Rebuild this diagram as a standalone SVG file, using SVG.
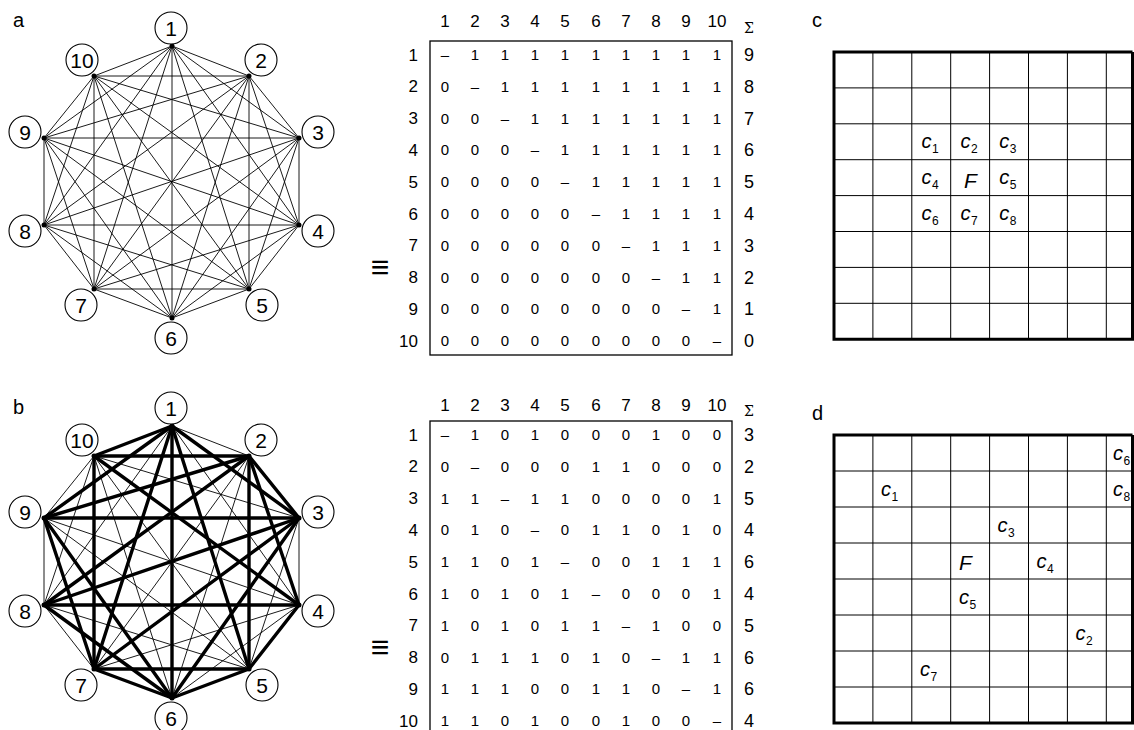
<svg xmlns="http://www.w3.org/2000/svg" width="1134" height="730" viewBox="0 0 1134 730">
<style>
text{font-family:"Liberation Sans",Arial,sans-serif;fill:#000}
.pl{font-size:20px}
.e line{stroke:#000;stroke-width:0.9}
.E line{stroke:#000;stroke-width:3.4;stroke-linecap:round}
.nd circle.c{fill:#fff;stroke:#000;stroke-width:1.1}
.nd circle.d{fill:#000}
.nd text{font-size:21px;text-anchor:middle}
.h{font-size:17px;text-anchor:middle}
.r{font-size:17px;text-anchor:end}
.v{font-size:15px;text-anchor:middle}
.s{font-size:18px;text-anchor:middle}
.sg{font-size:14px;text-anchor:middle;font-family:"DejaVu Serif",serif}
.box{fill:none;stroke:#000;stroke-width:1.3}
.eq{font-size:32px;text-anchor:middle}
.gt{fill:none;stroke:#000;stroke-width:1}
.gT{fill:none;stroke:#000;stroke-width:3}
.ci{font-size:20px;font-style:italic}
.sub{font-size:12px}
.F{font-size:21px;font-style:italic}
</style>
<rect width="1134" height="730" fill="#fff"/>
<text class="pl" x="13" y="27">a</text>
<text class="pl" x="13" y="414">b</text>
<text class="pl" x="812" y="27">c</text>
<text class="pl" x="812" y="420">d</text>

<!-- Graph a -->
<g id="graph-a">
<g id="edges-a" class="e">
<line x1="172" y1="46" x2="249" y2="76"/><line x1="172" y1="46" x2="299" y2="138"/><line x1="172" y1="46" x2="299" y2="225"/><line x1="172" y1="46" x2="249" y2="289"/><line x1="172" y1="46" x2="172" y2="318"/><line x1="172" y1="46" x2="94" y2="289"/><line x1="172" y1="46" x2="44" y2="225"/><line x1="172" y1="46" x2="44" y2="138"/><line x1="172" y1="46" x2="94" y2="76"/>
<line x1="249" y1="76" x2="299" y2="138"/><line x1="249" y1="76" x2="299" y2="225"/><line x1="249" y1="76" x2="249" y2="289"/><line x1="249" y1="76" x2="172" y2="318"/><line x1="249" y1="76" x2="94" y2="289"/><line x1="249" y1="76" x2="44" y2="225"/><line x1="249" y1="76" x2="44" y2="138"/><line x1="249" y1="76" x2="94" y2="76"/>
<line x1="299" y1="138" x2="299" y2="225"/><line x1="299" y1="138" x2="249" y2="289"/><line x1="299" y1="138" x2="172" y2="318"/><line x1="299" y1="138" x2="94" y2="289"/><line x1="299" y1="138" x2="44" y2="225"/><line x1="299" y1="138" x2="44" y2="138"/><line x1="299" y1="138" x2="94" y2="76"/>
<line x1="299" y1="225" x2="249" y2="289"/><line x1="299" y1="225" x2="172" y2="318"/><line x1="299" y1="225" x2="94" y2="289"/><line x1="299" y1="225" x2="44" y2="225"/><line x1="299" y1="225" x2="44" y2="138"/><line x1="299" y1="225" x2="94" y2="76"/>
<line x1="249" y1="289" x2="172" y2="318"/><line x1="249" y1="289" x2="94" y2="289"/><line x1="249" y1="289" x2="44" y2="225"/><line x1="249" y1="289" x2="44" y2="138"/><line x1="249" y1="289" x2="94" y2="76"/>
<line x1="172" y1="318" x2="94" y2="289"/><line x1="172" y1="318" x2="44" y2="225"/><line x1="172" y1="318" x2="44" y2="138"/><line x1="172" y1="318" x2="94" y2="76"/>
<line x1="94" y1="289" x2="44" y2="225"/><line x1="94" y1="289" x2="44" y2="138"/><line x1="94" y1="289" x2="94" y2="76"/>
<line x1="44" y1="225" x2="44" y2="138"/><line x1="44" y1="225" x2="94" y2="76"/>
<line x1="44" y1="138" x2="94" y2="76"/>
</g>
<g id="a-n1" class="nd"><circle class="d" cx="172" cy="46" r="2.5"/><circle class="c" cx="171" cy="28" r="16"/><text x="171" y="35.5">1</text></g>
<g id="a-n2" class="nd"><circle class="d" cx="249" cy="76" r="2.5"/><circle class="c" cx="261" cy="60" r="16"/><text x="261" y="67.5">2</text></g>
<g id="a-n3" class="nd"><circle class="d" cx="299" cy="138" r="2.5"/><circle class="c" cx="318" cy="132" r="16"/><text x="318" y="139.5">3</text></g>
<g id="a-n4" class="nd"><circle class="d" cx="299" cy="225" r="2.5"/><circle class="c" cx="318" cy="231" r="16"/><text x="318" y="238.5">4</text></g>
<g id="a-n5" class="nd"><circle class="d" cx="249" cy="289" r="2.5"/><circle class="c" cx="262" cy="305" r="16"/><text x="262" y="312.5">5</text></g>
<g id="a-n6" class="nd"><circle class="d" cx="172" cy="318" r="2.5"/><circle class="c" cx="171" cy="338" r="16"/><text x="171" y="345.5">6</text></g>
<g id="a-n7" class="nd"><circle class="d" cx="94" cy="289" r="2.5"/><circle class="c" cx="81" cy="305" r="16"/><text x="81" y="312.5">7</text></g>
<g id="a-n8" class="nd"><circle class="d" cx="44" cy="225" r="2.5"/><circle class="c" cx="25" cy="231" r="16"/><text x="25" y="238.5">8</text></g>
<g id="a-n9" class="nd"><circle class="d" cx="44" cy="138" r="2.5"/><circle class="c" cx="25" cy="132" r="16"/><text x="25" y="139.5">9</text></g>
<g id="a-n10" class="nd"><circle class="d" cx="94" cy="76" r="2.5"/><circle class="c" cx="82" cy="60" r="16"/><text x="82" y="67.5">10</text></g>
</g>

<!-- Graph b -->
<g id="graph-b" transform="translate(0,380)">
<g id="edges-b">
<g class="e">
<line x1="172" y1="46" x2="249" y2="76"/><line x1="172" y1="46" x2="299" y2="225"/><line x1="172" y1="46" x2="44" y2="225"/>
<line x1="249" y1="76" x2="172" y2="318"/><line x1="249" y1="76" x2="94" y2="289"/>
<line x1="299" y1="138" x2="299" y2="225"/><line x1="299" y1="138" x2="249" y2="289"/><line x1="299" y1="138" x2="94" y2="76"/>
<line x1="299" y1="225" x2="172" y2="318"/><line x1="299" y1="225" x2="94" y2="289"/><line x1="299" y1="225" x2="44" y2="138"/>
<line x1="249" y1="289" x2="44" y2="225"/><line x1="249" y1="289" x2="44" y2="138"/><line x1="249" y1="289" x2="94" y2="76"/>
<line x1="172" y1="318" x2="94" y2="76"/>
<line x1="94" y1="289" x2="44" y2="225"/>
<line x1="44" y1="225" x2="44" y2="138"/><line x1="44" y1="225" x2="94" y2="76"/>
<line x1="44" y1="138" x2="94" y2="76"/>
</g>
<g class="E">
<line x1="172" y1="46" x2="299" y2="138"/><line x1="172" y1="46" x2="249" y2="289"/><line x1="172" y1="46" x2="172" y2="318"/><line x1="172" y1="46" x2="94" y2="289"/><line x1="172" y1="46" x2="44" y2="138"/><line x1="172" y1="46" x2="94" y2="76"/>
<line x1="249" y1="76" x2="299" y2="138"/><line x1="249" y1="76" x2="299" y2="225"/><line x1="249" y1="76" x2="249" y2="289"/><line x1="249" y1="76" x2="44" y2="225"/><line x1="249" y1="76" x2="44" y2="138"/><line x1="249" y1="76" x2="94" y2="76"/>
<line x1="299" y1="138" x2="172" y2="318"/><line x1="299" y1="138" x2="94" y2="289"/><line x1="299" y1="138" x2="44" y2="225"/><line x1="299" y1="138" x2="44" y2="138"/>
<line x1="299" y1="225" x2="249" y2="289"/><line x1="299" y1="225" x2="44" y2="225"/><line x1="299" y1="225" x2="94" y2="76"/>
<line x1="249" y1="289" x2="172" y2="318"/><line x1="249" y1="289" x2="94" y2="289"/>
<line x1="172" y1="318" x2="94" y2="289"/><line x1="172" y1="318" x2="44" y2="225"/><line x1="172" y1="318" x2="44" y2="138"/>
<line x1="94" y1="289" x2="44" y2="138"/><line x1="94" y1="289" x2="94" y2="76"/>
</g>
</g>
<g id="b-n1" class="nd"><circle class="d" cx="172" cy="46" r="2.5"/><circle class="c" cx="171" cy="28" r="16"/><text x="171" y="35.5">1</text></g>
<g id="b-n2" class="nd"><circle class="d" cx="249" cy="76" r="2.5"/><circle class="c" cx="261" cy="60" r="16"/><text x="261" y="67.5">2</text></g>
<g id="b-n3" class="nd"><circle class="d" cx="299" cy="138" r="2.5"/><circle class="c" cx="318" cy="132" r="16"/><text x="318" y="139.5">3</text></g>
<g id="b-n4" class="nd"><circle class="d" cx="299" cy="225" r="2.5"/><circle class="c" cx="318" cy="231" r="16"/><text x="318" y="238.5">4</text></g>
<g id="b-n5" class="nd"><circle class="d" cx="249" cy="289" r="2.5"/><circle class="c" cx="262" cy="305" r="16"/><text x="262" y="312.5">5</text></g>
<g id="b-n6" class="nd"><circle class="d" cx="172" cy="318" r="2.5"/><circle class="c" cx="171" cy="338" r="16"/><text x="171" y="345.5">6</text></g>
<g id="b-n7" class="nd"><circle class="d" cx="94" cy="289" r="2.5"/><circle class="c" cx="81" cy="305" r="16"/><text x="81" y="312.5">7</text></g>
<g id="b-n8" class="nd"><circle class="d" cx="44" cy="225" r="2.5"/><circle class="c" cx="25" cy="231" r="16"/><text x="25" y="238.5">8</text></g>
<g id="b-n9" class="nd"><circle class="d" cx="44" cy="138" r="2.5"/><circle class="c" cx="25" cy="132" r="16"/><text x="25" y="139.5">9</text></g>
<g id="b-n10" class="nd"><circle class="d" cx="94" cy="76" r="2.5"/><circle class="c" cx="82" cy="60" r="16"/><text x="82" y="67.5">10</text></g>
</g>

<text class="eq" x="380" y="278">≡</text>
<text class="eq" x="380" y="658">≡</text>

<!-- Matrix a -->
<g id="matrix-a">
<rect class="box" x="430" y="41" width="302" height="314"/>
<g id="matrix-a-head">
<text class="h" x="445" y="27">1</text><text class="h" x="475" y="27">2</text><text class="h" x="505" y="27">3</text><text class="h" x="535" y="27">4</text><text class="h" x="565" y="27">5</text><text class="h" x="596" y="27">6</text><text class="h" x="626" y="27">7</text><text class="h" x="656" y="27">8</text><text class="h" x="686" y="27">9</text><text class="h" x="717" y="27">10</text><text class="sg" x="749" y="33">Σ</text>
</g>
<g id="a-row1"><text class="r" x="418" y="60.5">1</text><text class="v" x="445" y="60">–</text><text class="v" x="475" y="60">1</text><text class="v" x="505" y="60">1</text><text class="v" x="535" y="60">1</text><text class="v" x="565" y="60">1</text><text class="v" x="596" y="60">1</text><text class="v" x="626" y="60">1</text><text class="v" x="656" y="60">1</text><text class="v" x="686" y="60">1</text><text class="v" x="717" y="60">1</text><text class="s" x="749" y="61">9</text></g>
<g id="a-row2"><text class="r" x="418" y="92.3">2</text><text class="v" x="445" y="91.8">0</text><text class="v" x="475" y="91.8">–</text><text class="v" x="505" y="91.8">1</text><text class="v" x="535" y="91.8">1</text><text class="v" x="565" y="91.8">1</text><text class="v" x="596" y="91.8">1</text><text class="v" x="626" y="91.8">1</text><text class="v" x="656" y="91.8">1</text><text class="v" x="686" y="91.8">1</text><text class="v" x="717" y="91.8">1</text><text class="s" x="749" y="92.8">8</text></g>
<g id="a-row3"><text class="r" x="418" y="124.1">3</text><text class="v" x="445" y="123.6">0</text><text class="v" x="475" y="123.6">0</text><text class="v" x="505" y="123.6">–</text><text class="v" x="535" y="123.6">1</text><text class="v" x="565" y="123.6">1</text><text class="v" x="596" y="123.6">1</text><text class="v" x="626" y="123.6">1</text><text class="v" x="656" y="123.6">1</text><text class="v" x="686" y="123.6">1</text><text class="v" x="717" y="123.6">1</text><text class="s" x="749" y="124.6">7</text></g>
<g id="a-row4"><text class="r" x="418" y="155.9">4</text><text class="v" x="445" y="155.4">0</text><text class="v" x="475" y="155.4">0</text><text class="v" x="505" y="155.4">0</text><text class="v" x="535" y="155.4">–</text><text class="v" x="565" y="155.4">1</text><text class="v" x="596" y="155.4">1</text><text class="v" x="626" y="155.4">1</text><text class="v" x="656" y="155.4">1</text><text class="v" x="686" y="155.4">1</text><text class="v" x="717" y="155.4">1</text><text class="s" x="749" y="156.4">6</text></g>
<g id="a-row5"><text class="r" x="418" y="187.7">5</text><text class="v" x="445" y="187.2">0</text><text class="v" x="475" y="187.2">0</text><text class="v" x="505" y="187.2">0</text><text class="v" x="535" y="187.2">0</text><text class="v" x="565" y="187.2">–</text><text class="v" x="596" y="187.2">1</text><text class="v" x="626" y="187.2">1</text><text class="v" x="656" y="187.2">1</text><text class="v" x="686" y="187.2">1</text><text class="v" x="717" y="187.2">1</text><text class="s" x="749" y="188.2">5</text></g>
<g id="a-row6"><text class="r" x="418" y="219.5">6</text><text class="v" x="445" y="219">0</text><text class="v" x="475" y="219">0</text><text class="v" x="505" y="219">0</text><text class="v" x="535" y="219">0</text><text class="v" x="565" y="219">0</text><text class="v" x="596" y="219">–</text><text class="v" x="626" y="219">1</text><text class="v" x="656" y="219">1</text><text class="v" x="686" y="219">1</text><text class="v" x="717" y="219">1</text><text class="s" x="749" y="220">4</text></g>
<g id="a-row7"><text class="r" x="418" y="251.3">7</text><text class="v" x="445" y="250.8">0</text><text class="v" x="475" y="250.8">0</text><text class="v" x="505" y="250.8">0</text><text class="v" x="535" y="250.8">0</text><text class="v" x="565" y="250.8">0</text><text class="v" x="596" y="250.8">0</text><text class="v" x="626" y="250.8">–</text><text class="v" x="656" y="250.8">1</text><text class="v" x="686" y="250.8">1</text><text class="v" x="717" y="250.8">1</text><text class="s" x="749" y="251.8">3</text></g>
<g id="a-row8"><text class="r" x="418" y="283.1">8</text><text class="v" x="445" y="282.6">0</text><text class="v" x="475" y="282.6">0</text><text class="v" x="505" y="282.6">0</text><text class="v" x="535" y="282.6">0</text><text class="v" x="565" y="282.6">0</text><text class="v" x="596" y="282.6">0</text><text class="v" x="626" y="282.6">0</text><text class="v" x="656" y="282.6">–</text><text class="v" x="686" y="282.6">1</text><text class="v" x="717" y="282.6">1</text><text class="s" x="749" y="283.6">2</text></g>
<g id="a-row9"><text class="r" x="418" y="314.9">9</text><text class="v" x="445" y="314.4">0</text><text class="v" x="475" y="314.4">0</text><text class="v" x="505" y="314.4">0</text><text class="v" x="535" y="314.4">0</text><text class="v" x="565" y="314.4">0</text><text class="v" x="596" y="314.4">0</text><text class="v" x="626" y="314.4">0</text><text class="v" x="656" y="314.4">0</text><text class="v" x="686" y="314.4">–</text><text class="v" x="717" y="314.4">1</text><text class="s" x="749" y="315.4">1</text></g>
<g id="a-row10"><text class="r" x="418" y="346.7">10</text><text class="v" x="445" y="346.2">0</text><text class="v" x="475" y="346.2">0</text><text class="v" x="505" y="346.2">0</text><text class="v" x="535" y="346.2">0</text><text class="v" x="565" y="346.2">0</text><text class="v" x="596" y="346.2">0</text><text class="v" x="626" y="346.2">0</text><text class="v" x="656" y="346.2">0</text><text class="v" x="686" y="346.2">0</text><text class="v" x="717" y="346.2">–</text><text class="s" x="749" y="347.2">0</text></g>
</g>

<!-- Matrix b -->
<g id="matrix-b" transform="translate(0,380)">
<rect class="box" x="430" y="41" width="302" height="330"/>
<g id="matrix-b-head">
<text class="h" x="445" y="31">1</text><text class="h" x="475" y="31">2</text><text class="h" x="505" y="31">3</text><text class="h" x="535" y="31">4</text><text class="h" x="565" y="31">5</text><text class="h" x="596" y="31">6</text><text class="h" x="626" y="31">7</text><text class="h" x="656" y="31">8</text><text class="h" x="686" y="31">9</text><text class="h" x="717" y="31">10</text><text class="sg" x="749" y="36">Σ</text>
</g>
<g id="b-row1"><text class="r" x="418" y="60.5">1</text><text class="v" x="445" y="60">–</text><text class="v" x="475" y="60">1</text><text class="v" x="505" y="60">0</text><text class="v" x="535" y="60">1</text><text class="v" x="565" y="60">0</text><text class="v" x="596" y="60">0</text><text class="v" x="626" y="60">0</text><text class="v" x="656" y="60">1</text><text class="v" x="686" y="60">0</text><text class="v" x="717" y="60">0</text><text class="s" x="749" y="61">3</text></g>
<g id="b-row2"><text class="r" x="418" y="92.3">2</text><text class="v" x="445" y="91.8">0</text><text class="v" x="475" y="91.8">–</text><text class="v" x="505" y="91.8">0</text><text class="v" x="535" y="91.8">0</text><text class="v" x="565" y="91.8">0</text><text class="v" x="596" y="91.8">1</text><text class="v" x="626" y="91.8">1</text><text class="v" x="656" y="91.8">0</text><text class="v" x="686" y="91.8">0</text><text class="v" x="717" y="91.8">0</text><text class="s" x="749" y="92.8">2</text></g>
<g id="b-row3"><text class="r" x="418" y="124.1">3</text><text class="v" x="445" y="123.6">1</text><text class="v" x="475" y="123.6">1</text><text class="v" x="505" y="123.6">–</text><text class="v" x="535" y="123.6">1</text><text class="v" x="565" y="123.6">1</text><text class="v" x="596" y="123.6">0</text><text class="v" x="626" y="123.6">0</text><text class="v" x="656" y="123.6">0</text><text class="v" x="686" y="123.6">0</text><text class="v" x="717" y="123.6">1</text><text class="s" x="749" y="124.6">5</text></g>
<g id="b-row4"><text class="r" x="418" y="155.9">4</text><text class="v" x="445" y="155.4">0</text><text class="v" x="475" y="155.4">1</text><text class="v" x="505" y="155.4">0</text><text class="v" x="535" y="155.4">–</text><text class="v" x="565" y="155.4">0</text><text class="v" x="596" y="155.4">1</text><text class="v" x="626" y="155.4">1</text><text class="v" x="656" y="155.4">0</text><text class="v" x="686" y="155.4">1</text><text class="v" x="717" y="155.4">0</text><text class="s" x="749" y="156.4">4</text></g>
<g id="b-row5"><text class="r" x="418" y="187.7">5</text><text class="v" x="445" y="187.2">1</text><text class="v" x="475" y="187.2">1</text><text class="v" x="505" y="187.2">0</text><text class="v" x="535" y="187.2">1</text><text class="v" x="565" y="187.2">–</text><text class="v" x="596" y="187.2">0</text><text class="v" x="626" y="187.2">0</text><text class="v" x="656" y="187.2">1</text><text class="v" x="686" y="187.2">1</text><text class="v" x="717" y="187.2">1</text><text class="s" x="749" y="188.2">6</text></g>
<g id="b-row6"><text class="r" x="418" y="219.5">6</text><text class="v" x="445" y="219">1</text><text class="v" x="475" y="219">0</text><text class="v" x="505" y="219">1</text><text class="v" x="535" y="219">0</text><text class="v" x="565" y="219">1</text><text class="v" x="596" y="219">–</text><text class="v" x="626" y="219">0</text><text class="v" x="656" y="219">0</text><text class="v" x="686" y="219">0</text><text class="v" x="717" y="219">1</text><text class="s" x="749" y="220">4</text></g>
<g id="b-row7"><text class="r" x="418" y="251.3">7</text><text class="v" x="445" y="250.8">1</text><text class="v" x="475" y="250.8">0</text><text class="v" x="505" y="250.8">1</text><text class="v" x="535" y="250.8">0</text><text class="v" x="565" y="250.8">1</text><text class="v" x="596" y="250.8">1</text><text class="v" x="626" y="250.8">–</text><text class="v" x="656" y="250.8">1</text><text class="v" x="686" y="250.8">0</text><text class="v" x="717" y="250.8">0</text><text class="s" x="749" y="251.8">5</text></g>
<g id="b-row8"><text class="r" x="418" y="283.1">8</text><text class="v" x="445" y="282.6">0</text><text class="v" x="475" y="282.6">1</text><text class="v" x="505" y="282.6">1</text><text class="v" x="535" y="282.6">1</text><text class="v" x="565" y="282.6">0</text><text class="v" x="596" y="282.6">1</text><text class="v" x="626" y="282.6">0</text><text class="v" x="656" y="282.6">–</text><text class="v" x="686" y="282.6">1</text><text class="v" x="717" y="282.6">1</text><text class="s" x="749" y="283.6">6</text></g>
<g id="b-row9"><text class="r" x="418" y="314.9">9</text><text class="v" x="445" y="314.4">1</text><text class="v" x="475" y="314.4">1</text><text class="v" x="505" y="314.4">1</text><text class="v" x="535" y="314.4">0</text><text class="v" x="565" y="314.4">0</text><text class="v" x="596" y="314.4">1</text><text class="v" x="626" y="314.4">1</text><text class="v" x="656" y="314.4">0</text><text class="v" x="686" y="314.4">–</text><text class="v" x="717" y="314.4">1</text><text class="s" x="749" y="315.4">6</text></g>
<g id="b-row10"><text class="r" x="418" y="346.7">10</text><text class="v" x="445" y="346.2">1</text><text class="v" x="475" y="346.2">1</text><text class="v" x="505" y="346.2">0</text><text class="v" x="535" y="346.2">1</text><text class="v" x="565" y="346.2">0</text><text class="v" x="596" y="346.2">0</text><text class="v" x="626" y="346.2">1</text><text class="v" x="656" y="346.2">0</text><text class="v" x="686" y="346.2">0</text><text class="v" x="717" y="346.2">–</text><text class="s" x="749" y="347.2">4</text></g>
</g>

<!-- Grid c -->
<g id="grid-c">
<path class="gt" d="M872.9 52V339.2M911.8 52V339.2M950.7 52V339.2M989.6 52V339.2M1028.5 52V339.2M1067.4 52V339.2M1106.3 52V339.2M834 87.9H1134M834 123.8H1134M834 159.7H1134M834 195.6H1134M834 231.5H1134M834 267.4H1134M834 303.3H1134"/>
<path class="gT" d="M1132.5 52H834V339.2H1132.5V52"/>
<g id="c-c1"><text class="ci" x="921.5" y="148">c</text><text class="sub" x="932" y="152.5">1</text></g>
<g id="c-c2"><text class="ci" x="960.4" y="148">c</text><text class="sub" x="970.9" y="152.5">2</text></g>
<g id="c-c3"><text class="ci" x="999.3" y="148">c</text><text class="sub" x="1009.8" y="152.5">3</text></g>
<g id="c-c4"><text class="ci" x="921.5" y="184">c</text><text class="sub" x="932" y="188.5">4</text></g>
<g id="c-F"><text class="F" x="964" y="187.5">F</text></g>
<g id="c-c5"><text class="ci" x="999.3" y="184">c</text><text class="sub" x="1009.8" y="188.5">5</text></g>
<g id="c-c6"><text class="ci" x="921.5" y="220">c</text><text class="sub" x="932" y="224.5">6</text></g>
<g id="c-c7"><text class="ci" x="960.4" y="220">c</text><text class="sub" x="970.9" y="224.5">7</text></g>
<g id="c-c8"><text class="ci" x="999.3" y="220">c</text><text class="sub" x="1009.8" y="224.5">8</text></g>
</g>

<!-- Grid d -->
<g id="grid-d">
<path class="gt" d="M872.9 435V723M911.8 435V723M950.7 435V723M989.6 435V723M1028.5 435V723M1067.4 435V723M1106.3 435V723M834 471H1134M834 507H1134M834 543H1134M834 579H1134M834 615H1134M834 651H1134M834 687H1134"/>
<path class="gT" d="M1132.5 435H834V723H1132.5V435"/>
<g id="d-c6"><text class="ci" x="1113" y="460">c</text><text class="sub" x="1123.5" y="464.5">6</text></g>
<g id="d-c8"><text class="ci" x="1113" y="496">c</text><text class="sub" x="1123.5" y="500.5">8</text></g>
<g id="d-c1"><text class="ci" x="881" y="496">c</text><text class="sub" x="891.5" y="500.5">1</text></g>
<g id="d-c3"><text class="ci" x="997.5" y="532">c</text><text class="sub" x="1008" y="536.5">3</text></g>
<g id="d-F"><text class="F" x="959" y="570">F</text></g>
<g id="d-c4"><text class="ci" x="1036.5" y="568">c</text><text class="sub" x="1047" y="572.5">4</text></g>
<g id="d-c5"><text class="ci" x="959" y="604">c</text><text class="sub" x="969.5" y="608.5">5</text></g>
<g id="d-c2"><text class="ci" x="1075.5" y="640">c</text><text class="sub" x="1086" y="644.5">2</text></g>
<g id="d-c7"><text class="ci" x="920" y="676">c</text><text class="sub" x="930.5" y="680.5">7</text></g>
</g>
</svg>
